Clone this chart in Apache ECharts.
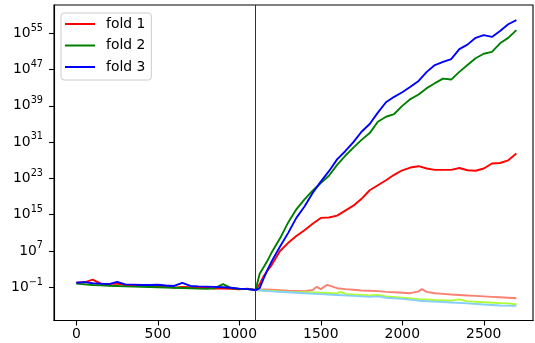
<!DOCTYPE html>
<html>
<head>
<meta charset="utf-8">
<script src="https://cdn.jsdelivr.net/npm/echarts@6/dist/echarts.min.js"></script>
<style>
html,body{margin:0;padding:0;background:#fff;}
#c{width:535px;height:343px;}
</style>
</head>
<body>
<div id="c"></div>
<script>
// x positions (iterations) shared by the three main folds
var foldX = [0,50,100,150,200,250,300,350,400,450,500,550,600,650,700,750,800,850,900,950,1000,1050,1100,
  1125,1150,1175,1200,1250,1300,1350,1400,1450,1500,1550,1600,1650,1700,1750,1800,1850,1900,1950,2000,
  2050,2100,2150,2200,2250,2300,2350,2400,2450,2500,2550,2600,2650,2700];
// values given as log10 (exponent)
var fold1Log10 = [0.0,0.1,0.7,-0.2,-0.3,-0.2,-0.5,-0.55,-0.6,-0.7,-0.75,-0.8,-1.1,-0.9,-1.0,-1.05,-1.1,-1.3,-1.3,-1.35,-1.45,-1.3,-1.6,
  -0.3,1.5,2.8,4.0,7.0,8.8,10.3,11.6,13.0,14.3,14.4,14.8,15.9,17.0,18.5,20.4,21.5,22.6,23.8,24.8,
  25.4,25.7,25.2,24.9,24.9,24.9,25.3,24.8,24.7,25.2,26.3,26.4,27.0,28.5];
var fold2Log10 = [-0.2,-0.35,-0.5,-0.55,-0.65,-0.7,-0.8,-0.85,-0.9,-0.95,-1.0,-1.05,-1.1,-1.15,-1.2,-1.3,-1.35,-1.2,-0.3,-1.2,-1.35,-1.4,-1.6,
  2.0,3.5,5.0,6.8,9.8,13.3,16.2,18.4,20.3,22.0,23.6,26.0,28.0,29.8,31.5,33.0,35.5,36.6,37.2,39.0,
  40.5,41.5,42.9,44.0,45.0,44.8,46.5,48.0,49.5,50.5,50.9,52.8,54.0,55.7];
var fold3Log10 = [0.0,0.15,-0.1,-0.2,-0.3,0.2,-0.35,-0.4,-0.5,-0.5,-0.45,-0.6,-0.7,0.0,-0.7,-0.8,-0.85,-0.9,-1.0,-1.1,-1.3,-1.4,-1.6,
  -1.2,1.0,3.0,4.8,8.0,11.0,14.3,16.8,19.8,22.3,24.6,27.2,29.0,31.0,33.3,35.0,37.5,39.8,41.0,42.0,
  43.2,44.5,46.5,48.0,48.7,49.3,51.5,52.5,54.0,54.6,54.2,55.5,57.0,57.9];

// lighter (decreasing) curves after the split
var light1X = [1100,1150,1200,1250,1300,1350,1400,1450,1475,1500,1540,1600,1650,1700,1750,1800,1850,1900,1950,2000,2050,2100,2120,2150,2200,2250,2300,2350,2400,2450,2500,2550,2600,2650,2700];
var light1Log10 = [-1.6,-1.45,-1.55,-1.65,-1.75,-1.8,-1.85,-1.6,-0.9,-1.4,-0.45,-1.2,-1.4,-1.55,-1.7,-1.75,-1.85,-2.0,-2.1,-2.2,-2.3,-1.9,-1.4,-2.0,-2.3,-2.45,-2.6,-2.7,-2.8,-2.9,-3.0,-3.1,-3.2,-3.3,-3.4];
var light2X = [1100,1200,1300,1400,1500,1600,1620,1650,1700,1800,1850,1900,2000,2100,2200,2300,2350,2400,2500,2600,2650,2700];
var light2Log10 = [-1.6,-1.8,-2.0,-2.1,-2.2,-2.35,-2.0,-2.45,-2.6,-2.8,-2.7,-3.0,-3.3,-3.6,-3.8,-3.95,-3.65,-4.1,-4.3,-4.5,-4.55,-4.8];
var light3X = [1100,1200,1300,1400,1500,1600,1700,1800,1850,1900,2000,2100,2200,2300,2400,2500,2600,2700];
var light3Log10 = [-1.6,-1.9,-2.1,-2.3,-2.5,-2.7,-2.9,-3.1,-3.0,-3.3,-3.55,-3.95,-4.15,-4.35,-4.55,-4.8,-5.0,-5.1];

var seriesNames = ['fold 1','fold 2','fold 3'];
var xTicks = [0,500,1000,1500,2000,2500];
var yTickExponents = [-1,7,15,23,31,39,47,55];
var splitX = 1100;

function pairs(xs, ys){ return xs.map(function(x,i){ return [x, ys[i]]; }); }

var FONT = 'DejaVu Sans';
var chart = echarts.init(document.getElementById('c'), null, {renderer:'canvas'});

function lineSeries(name, xs, ys, color, extra){
  var s = {
    name: name, type: 'line', data: pairs(xs, ys), showSymbol: false, symbol: 'none',
    lineStyle: {color: color, width: 1.9}, itemStyle: {color: color},
    animation: false, silent: true
  };
  if (extra) for (var k in extra) s[k] = extra[k];
  return s;
}

var option = {
  animation: false,
  backgroundColor: '#fff',
  grid: {left: 54, top: 5, width: 479, height: 315.5, show: true, borderColor: '#000', borderWidth: 1.1, backgroundColor: 'transparent'},
  legend: {
    data: seriesNames, orient: 'vertical', left: 61, top: 13,
    icon: 'rect', itemWidth: 30, itemHeight: 2, itemGap: 5.5,
    padding: [3, 6, 5, 4],
    backgroundColor: '#fff', borderColor: '#ccc', borderWidth: 1, borderRadius: 3,
    textStyle: {fontFamily: FONT, fontSize: 13.9, color: '#000', lineHeight: 16, padding: [0,0,0,6]}
  },
  xAxis: {
    type: 'value', min: -137, max: 2802,
    splitLine: {show: false},
    axisLine: {show: true, onZero: false, lineStyle: {color: '#000', width: 1.1}},
    axisTick: {show: true, length: 5, customValues: xTicks, lineStyle: {color: '#000', width: 1.1}},
    axisLabel: {customValues: xTicks, margin: 7, fontFamily: FONT, fontSize: 13.9, color: '#000',
      formatter: function(v){ return String(Math.round(v)); }}
  },
  yAxis: {
    type: 'value', min: -8.32, max: 61.24,
    splitLine: {show: false},
    axisLine: {show: true, onZero: false, lineStyle: {color: '#000', width: 1.1}},
    axisTick: {show: true, length: 5, customValues: yTickExponents, lineStyle: {color: '#000', width: 1.1}},
    axisLabel: {
      customValues: yTickExponents, margin: 11,
      formatter: function(v){
        var e = Math.round(v);
        var t = e < 0 ? '\u2212' + Math.abs(e) : String(e);
        return '{b|10}{s|' + t + '}';
      },
      rich: {
        b: {fontFamily: FONT, fontSize: 13.9, color: '#000'},
        s: {fontFamily: FONT, fontSize: 9.7, color: '#000', padding: [0,0,10.6,0]}
      }
    }
  },
  series: [
    lineSeries('light 1', light1X, light1Log10, '#fa8072', {
      markLine: {silent: true, symbol: ['none','none'], label: {show: false},
        lineStyle: {color: '#333', width: 1, type: 'solid'}, data: [{xAxis: splitX}]}
    }),
    lineSeries('light 2', light2X, light2Log10, '#adff2f'),
    lineSeries('light 3', light3X, light3Log10, '#87cefa'),
    lineSeries(seriesNames[0], foldX, fold1Log10, '#ff0000'),
    lineSeries(seriesNames[1], foldX, fold2Log10, '#008000'),
    lineSeries(seriesNames[2], foldX, fold3Log10, '#0000ff')
  ]
};
chart.setOption(option);
</script>
</body>
</html>
